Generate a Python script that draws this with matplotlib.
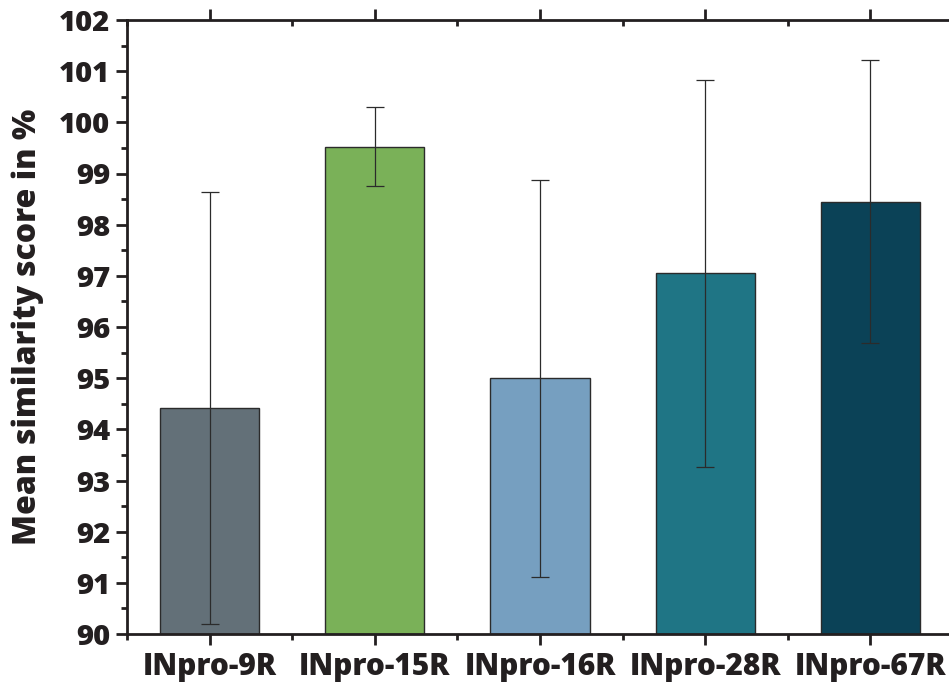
import matplotlib
matplotlib.use("Agg")
import matplotlib.pyplot as plt
from matplotlib.ticker import MultipleLocator

categories = ["INpro-9R", "INpro-15R", "INpro-16R", "INpro-28R", "INpro-67R"]
means = [94.42, 99.52, 95.00, 97.05, 98.45]
errors = [4.22, 0.77, 3.88, 3.78, 2.76]
colors = ["#637078", "#7ab158", "#769fc0", "#1f7585", "#0b4257"]

plt.rcParams["font.family"] = ["Open Sans", "DejaVu Sans"]
plt.rcParams["font.weight"] = "bold"

W, H = 949, 686
fig = plt.figure(figsize=(W / 100, H / 100), dpi=100)
ax = fig.add_axes([127 / W, 1 - 634 / H, (953 - 127) / W, (634 - 20) / H])

x = list(range(len(categories)))
ax.bar(x, [m - 90 for m in means], bottom=90, width=0.6, color=colors,
       edgecolor="#2b2b2b", linewidth=1.0, zorder=2)
ax.errorbar(x, means, yerr=errors, fmt="none", ecolor="#2b2b2b",
            elinewidth=0.9, capsize=6.5, capthick=0.9, zorder=3)

ax.set_xlim(-0.5, 4.5)
ax.set_ylim(90, 102)
ax.set_xticks(x)
ax.set_xticklabels(categories)
ax.xaxis.set_minor_locator(MultipleLocator(0.5))
ax.yaxis.set_major_locator(MultipleLocator(1))
ax.yaxis.set_minor_locator(MultipleLocator(0.5))

for side in ["left", "right", "top", "bottom"]:
    ax.spines[side].set_linewidth(2.0)
    ax.spines[side].set_color("#231f20")

ax.tick_params(axis="both", which="major", length=8, width=2.0, color="#231f20",
               labelcolor="#231f20")
ax.tick_params(axis="both", which="minor", length=4, width=2.0, color="#231f20")
ax.tick_params(axis="x", which="both", top=True, direction="out")
ax.tick_params(axis="y", which="both", right=True, direction="out")
# top and right mirror ticks point inward
for t in ax.xaxis.get_major_ticks() + ax.xaxis.get_minor_ticks():
    t.tick2line.set_marker(3)
for t in ax.yaxis.get_major_ticks() + ax.yaxis.get_minor_ticks():
    t.tick2line.set_marker(1)
ax.tick_params(axis="x", which="major", pad=5)
ax.tick_params(axis="y", which="major", pad=4)

for lbl in ax.get_xticklabels():
    lbl.set_fontsize(21.5)
    lbl.set_fontweight(800)
for lbl in ax.get_yticklabels():
    lbl.set_fontsize(21)
    lbl.set_fontweight(800)

ax.set_ylabel("Mean similarity score in %", fontsize=23, fontweight=800,
              color="#231f20", labelpad=11)

fig.savefig("out.png", dpi=100)
